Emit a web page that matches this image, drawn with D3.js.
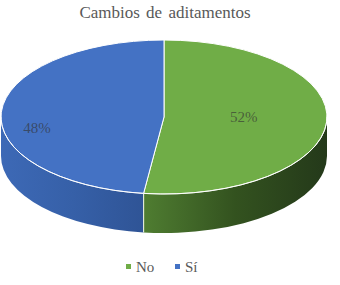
<!DOCTYPE html>
<html>
<head>
<meta charset="utf-8">
<script src="https://cdn.jsdelivr.net/npm/d3@7"></script>
<style>
  body { margin: 0; background: #fff; }
  svg { display: block; }
</style>
</head>
<body>
<div id="chart"></div>
<script>
// chart data
const categories = ['No', 'Sí'];
const values = [52, 48];
const labels = ['52%', '48%'];
const topColors = ['#70ad47', '#4472c4'];
const sideColors = [['#4f7d31', '#33521f', '#24391a'], ['#3d69b6', '#3660a8', '#2f5496']];

const serif = '"Liberation Serif", "Times New Roman", serif';
const width = 340, height = 285;
const cx = 164, cy = 117, rx = 163, ry = 77, depth = 39;
// label position as fraction of radius (x, y) per slice
const labelFrac = [[0.49, -0.07], [0.78, 0.2]];

const svg = d3.select('#chart').append('svg')
  .attr('width', width)
  .attr('height', height);

const defs = svg.append('defs');

const pie = d3.pie().sort(null).value(d => d);
const arcs = pie(values);

// point on the top ellipse, angle 0 = top, clockwise
const pt = (a, dy = 0) => [cx + rx * Math.sin(a), cy - ry * Math.cos(a) + dy];

// side walls (front half only: angles between PI/2 and 3PI/2)
arcs.forEach((d, i) => {
  const a0 = Math.max(d.startAngle, Math.PI / 2);
  const a1 = Math.min(d.endAngle, 3 * Math.PI / 2);
  if (a1 <= a0) return;
  const p0 = pt(a0), p1 = pt(a1);
  const gid = 'side-' + i;
  const grad = defs.append('linearGradient')
    .attr('id', gid)
    .attr('gradientUnits', 'userSpaceOnUse')
    .attr('x1', Math.min(p0[0], p1[0])).attr('x2', Math.max(p0[0], p1[0]))
    .attr('y1', 0).attr('y2', 0);
  grad.selectAll('stop').data(sideColors[i]).join('stop')
    .attr('offset', (c, k) => k / (sideColors[i].length - 1))
    .attr('stop-color', c => c);
  const large = (a1 - a0) > Math.PI ? 1 : 0;
  const path = `M${p0[0]},${p0[1]} A${rx},${ry} 0 ${large} 1 ${p1[0]},${p1[1]}` +
    ` L${p1[0]},${p1[1] + depth} A${rx},${ry} 0 ${large} 0 ${p0[0]},${p0[1] + depth} Z`;
  svg.append('path')
    .attr('d', path)
    .attr('fill', `url(#${gid})`);
});

// vertical seam lines where slice boundaries meet the front wall
arcs.forEach(d => {
  const a = d.endAngle;
  if (a > Math.PI / 2 && a < 3 * Math.PI / 2) {
    const p = pt(a);
    svg.append('line')
      .attr('x1', p[0]).attr('y1', p[1])
      .attr('x2', p[0]).attr('y2', p[1] + depth)
      .attr('stroke', '#dfe8d8').attr('stroke-width', 1.2);
  }
});

// top faces
arcs.forEach((d, i) => {
  const p0 = pt(d.startAngle), p1 = pt(d.endAngle);
  const large = (d.endAngle - d.startAngle) > Math.PI ? 1 : 0;
  svg.append('path')
    .attr('d', `M${cx},${cy} L${p0[0]},${p0[1]} A${rx},${ry} 0 ${large} 1 ${p1[0]},${p1[1]} Z`)
    .attr('fill', topColors[i])
    .attr('stroke', '#ffffff')
    .attr('stroke-width', 1)
    .attr('stroke-linejoin', 'round');
});

// light rim along the front edge of the top
{
  const p0 = pt(Math.PI / 2), p1 = pt(3 * Math.PI / 2);
  svg.append('path')
    .attr('d', `M${p0[0]},${p0[1]} A${rx},${ry} 0 0 1 ${p1[0]},${p1[1]}`)
    .attr('fill', 'none')
    .attr('stroke', '#ffffff')
    .attr('stroke-opacity', 0.75)
    .attr('stroke-width', 1);
}

// data labels
arcs.forEach((d, i) => {
  const m = (d.startAngle + d.endAngle) / 2;
  svg.append('text')
    .attr('x', cx + rx * labelFrac[i][0] * Math.sin(m))
    .attr('y', cy - ry * Math.cos(m) + ry * labelFrac[i][1])
    .attr('text-anchor', 'middle')
    .attr('dy', '0.35em')
    .attr('font-family', serif)
    .attr('font-size', 15)
    .attr('fill', '#333333')
    .attr('fill-opacity', 0.65)
    .text(labels[i]);
});

// title
svg.append('text')
  .attr('x', 165)
  .attr('y', 18)
  .attr('text-anchor', 'middle')
  .attr('font-family', serif)
  .attr('font-size', 17)
  .attr('word-spacing', 2)
  .attr('fill', '#595959')
  .text('Cambios de aditamentos');

// legend
const legend = svg.append('g').attr('transform', 'translate(126,272)');
const item = legend.selectAll('g')
  .data(categories)
  .join('g')
  .attr('transform', (d, i) => `translate(${i * 49},0)`);
item.append('rect')
  .attr('x', 0).attr('y', -8)
  .attr('width', 5).attr('height', 5)
  .attr('fill', (d, i) => topColors[i]);
item.append('text')
  .attr('x', 10)
  .attr('font-family', serif)
  .attr('font-size', 15)
  .attr('fill', '#595959')
  .text(d => d);
</script>
</body>
</html>
